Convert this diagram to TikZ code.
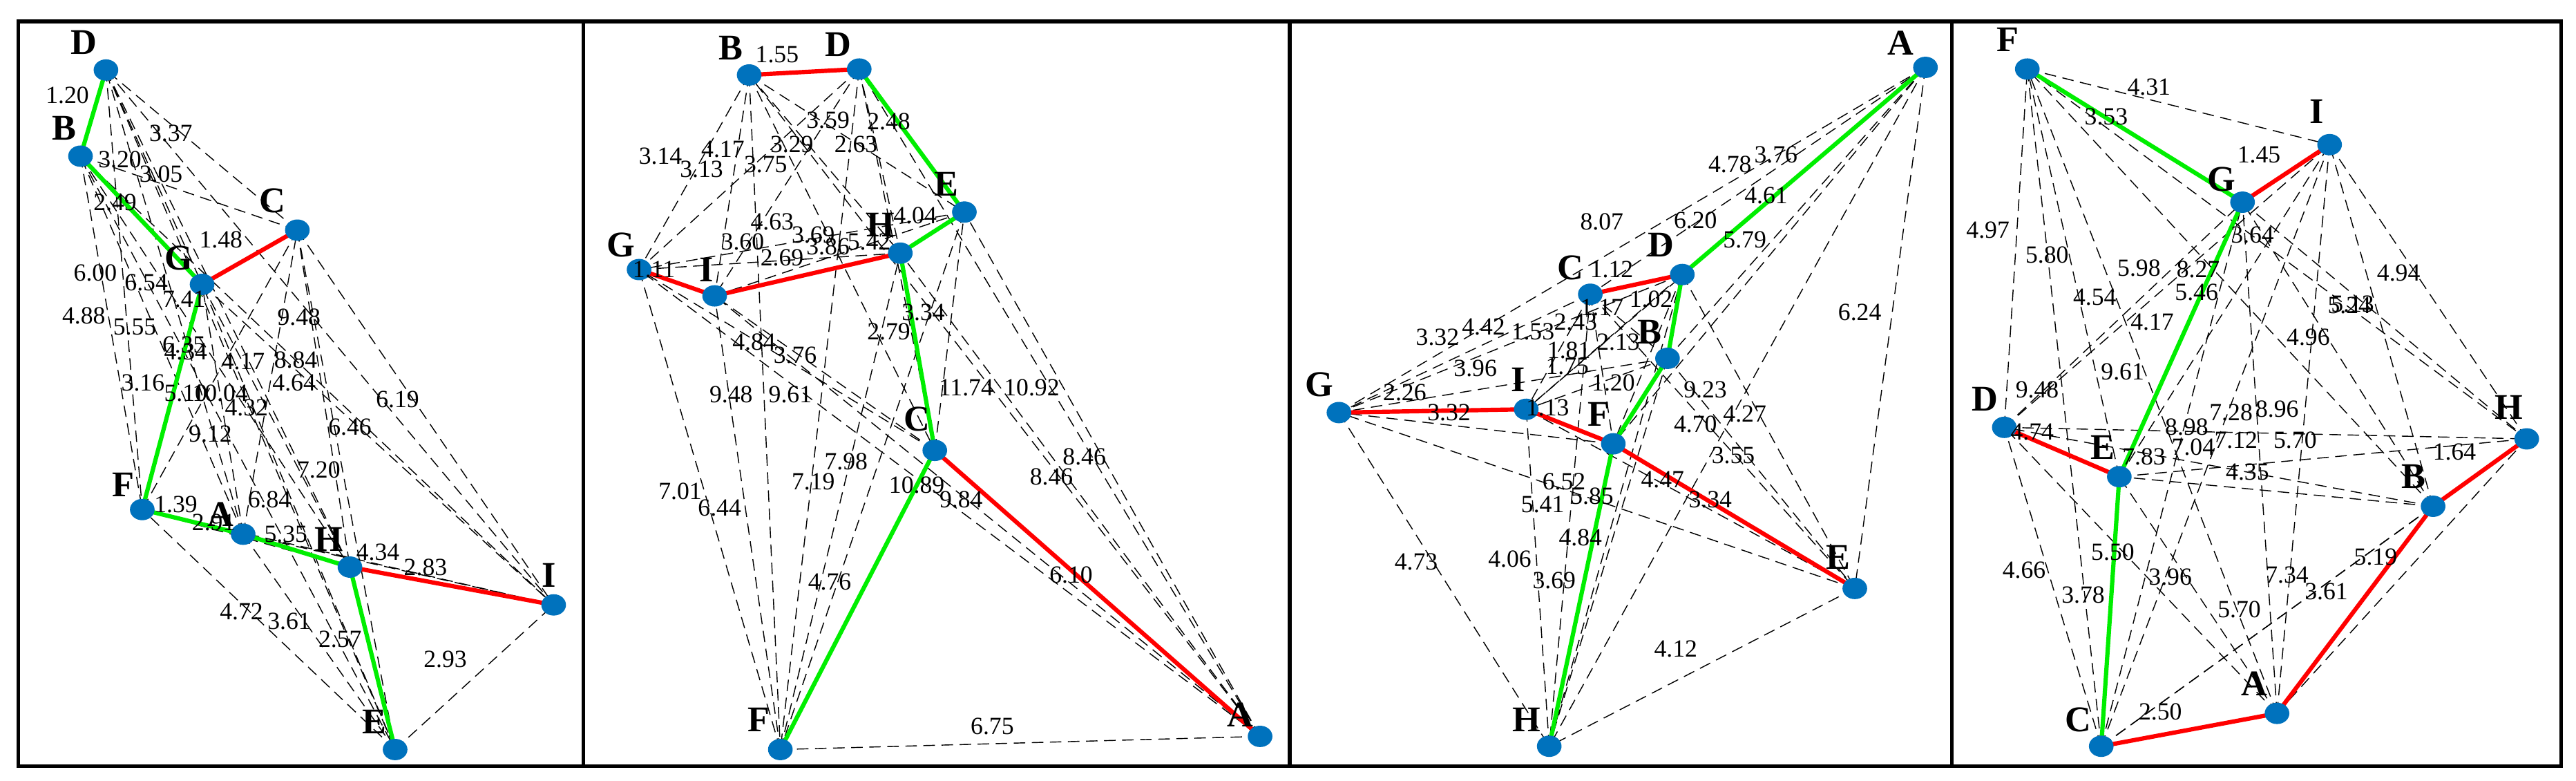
\documentclass[tikz,border=0pt]{standalone}
\usepackage{fontspec}
\setmainfont{Liberation Serif}
\begin{document}
\begin{tikzpicture}[x=1pt,y=-1pt,
  dsh/.style={dash pattern=on 7pt off 4pt,line width=0.6pt,black},
  red/.style={line width=2.6pt,draw={rgb,255:red,255;green,0;blue,0}},
  grn/.style={line width=2.6pt,draw={rgb,255:red,0;green,238;blue,0}},
  lt/.style={font=\fontsize{22}{22}\selectfont\bfseries,inner sep=0pt},
  nm/.style={font=\fontsize{15}{15}\selectfont,inner sep=0pt},
  dot/.style={fill={rgb,255:red,0;green,114;blue,189}}]
\useasboundingbox (0,0) rectangle (1568,475);
\fill[white] (0,0) rectangle (1568,475);
\foreach \xa/\xb in {11/355,355/785,785/1188,1188/1559}
  \draw[line width=2.2pt] (\xa,13) rectangle (\xb,466);
% ---------- panel 1
\coordinate (aD) at (64.5,42.6); \coordinate (aB) at (49,95); \coordinate (aC) at (181,140);
\coordinate (aG) at (123,173); \coordinate (aF) at (86.6,310); \coordinate (aA) at (148,325);
\coordinate (aH) at (213,345); \coordinate (aI) at (337,368); \coordinate (aE) at (240.5,456);
% ---------- panel 2
\coordinate (bB) at (456,45.6); \coordinate (bD) at (523,42); \coordinate (bE) at (587,129);
\coordinate (bH) at (548,154); \coordinate (bG) at (389,164); \coordinate (bI) at (435,180);
\coordinate (bC) at (569,274); \coordinate (bF) at (475,456); \coordinate (bA) at (767,448);
% ---------- panel 3
\coordinate (cA) at (1172,41); \coordinate (cD) at (1024,167); \coordinate (cC) at (968,179);
\coordinate (cB) at (1015,218); \coordinate (cG) at (815,251); \coordinate (cI) at (929,249);
\coordinate (cF) at (982,270); \coordinate (cE) at (1129,358); \coordinate (cH) at (943,454);
% ---------- panel 4
\coordinate (dF) at (1234,42); \coordinate (dI) at (1418,88); \coordinate (dG) at (1365,123);
\coordinate (dD) at (1220,260); \coordinate (dE) at (1290,290); \coordinate (dH) at (1538,267);
\coordinate (dB) at (1481,308); \coordinate (dA) at (1386,434); \coordinate (dC) at (1279,454);
% dashed complete graphs
\foreach \p in {a,b,c,d}{
 \foreach \u [count=\i] in {A,B,C,D,E,F,G,H,I}{
  \foreach \v [count=\j] in {A,B,C,D,E,F,G,H,I}{
   \ifnum\j>\i \draw[dsh] (\p\u) -- (\p\v); \fi }}}
% highlighted
\draw[grn] (aD) -- (aB) -- (aG) -- (aF) -- (aA) -- (aH) -- (aE);
\draw[red] (aG) -- (aC); \draw[red] (aH) -- (aI);
\draw[grn] (bD) -- (bE) -- (bH) -- (bC) -- (bF);
\draw[red] (bB) -- (bD); \draw[red] (bG) -- (bI) -- (bH); \draw[red] (bC) -- (bA);
\draw[grn] (cA) -- (cD) -- (cB) -- (cF) -- (cH);
\draw[red] (cC) -- (cD); \draw[red] (cG) -- (cI) -- (cF) -- (cE);
\draw[grn] (dF) -- (dG) -- (dE) -- (dC);
\draw[red] (dG) -- (dI); \draw[red] (dD) -- (dE); \draw[red] (dH) -- (dB) -- (dA) -- (dC);
\foreach \p in {a,b,c,d}\foreach \u in {A,B,C,D,E,F,G,H,I}
  \fill[dot] (\p\u) ellipse (7.5 and 6.5);
% letters
\foreach \n/\x/\y in {D/51/26,B/39/78,C/166/122,G/109/157,F/75/295,A/134.5/313,H/200/328,I/334/350,E/228/439,
 B/445/29,D/510/27,E/576/112,H/536/137,G/378/149,I/430/164,C/558/255,F/462/438,A/755/435,
 A/1157/26,D/1011/149,C/956/163,B/1004/202,G/803/234,I/924/231,F/973/252,E/1119/339,H/929/438,
 F/1222/24,I/1410/68,G/1352/109,D/1208/243,E/1280/272,H/1527/248,B/1469/290,A/1372/416,C/1265/438}
  \node[lt] (L\x) at (\x,\y) {\n};
% numbers
\foreach \t/\x/\y in {1.20/41/58,3.37/104/81,3.20/73/97,3.05/98/106,2.49/70/123,1.48/134.5/146,6.00/58/166,6.54/89/172,7.41/112/182,4.88/51/192,5.55/82/199,9.48/182/193,6.35/112/210,4.34/113/214,4.17/148/220,8.84/180/219,4.64/179/233,3.16/87/233,5.10/113/239,10.04/134/239,4.32/150/248,6.19/242/243,6.46/213/260,9.12/128/264,7.20/194/286,6.84/164/304,1.39/107/307,2.91/130/318,5.35/174/325,4.34/230/336,2.83/259/345,4.72/147/372,3.61/176/378,2.57/207/389,2.93/271/401,
 1.55/473/33,3.59/504/73,2.48/541/74,3.14/402/95,4.17/440/91,3.29/482/88,2.63/521/88,3.13/427/103,3.75/466/100,4.63/470/135,4.04/557/131,3.60/452/147,3.69/495/143,5.42/529/147,2.69/476/157,3.86/504/150,1.11/398/164,3.34/562/190,2.79/541/202,4.84/459/208,3.76/484/216,9.48/445/240,9.61/481/240,11.74/588/236,10.92/628/236,8.46/660/278,8.46/640/290,7.98/515/281,7.19/495/293,10.89/558/295,9.84/585/304,7.01/414/299,6.44/438/309,4.76/505/354,6.10/652/350,6.75/604/442,
 3.76/1081/94,4.78/1053/100,4.61/1075/119,8.07/975/135,6.20/1032/134,5.79/1062/146,1.12/981/164,6.24/1132/190,1.02/1005/182,1.17/975/187,3.32/875/205,4.42/903/199,1.53/933/202,2.43/959/196,2.13/985/208,1.81/955/213,3.96/898/224,1.75/954/223,1.20/982/233,9.23/1038/237,4.27/1062/252,2.26/855/239,3.32/882/251,1.13/942/248,4.70/1032/258,3.55/1055/277,6.52/952/293,4.47/1012/292,3.34/1041/304,5.41/939/307,5.85/969/302,4.84/962/327,4.73/862/342,4.06/919/340,3.69/946/353,4.12/1020/395,
 4.31/1308/53,3.53/1282/71,1.45/1375/94,4.97/1210/140,5.80/1246/155,3.64/1371/143,5.98/1302/163,8.27/1338/164,5.46/1337/178,4.94/1460/166,4.54/1275/181,5.13/1432/185,5.24/1430/186,4.17/1310/196,4.96/1405/205,9.61/1292/226,9.48/1240/237,7.28/1358/251,8.96/1386/249,8.98/1331/260,4.74/1237/263,7.12/1361/268,5.70/1397/268,7.83/1305/278,7.04/1335/272,1.64/1494/275,4.35/1368/287,5.50/1286/336,4.66/1232/347,3.96/1321/351,7.34/1392/350,5.19/1446/339,3.78/1268/362,3.61/1416/360,5.70/1363/371,2.50/1315/433}
  \node[nm] (N\x) at (\x,\y) {\t};
\end{tikzpicture}
\end{document}
